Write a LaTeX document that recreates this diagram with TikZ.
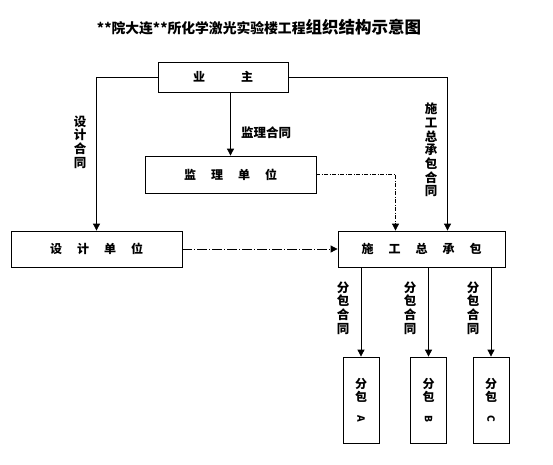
\documentclass[tikz,border=0pt]{standalone}
\usepackage{fontspec}
\setmainfont{Noto Sans CJK SC}
\usetikzlibrary{arrows.meta,positioning,calc}

\newcommand{\boxgap}{\hspace{15pt}}

\begin{document}
\begin{tikzpicture}[x=1pt, y=-1pt,
    every node/.style={font=\bfseries\fontsize{12}{14}\selectfont},
    unit/.style={draw, line width=0.8pt, minimum width=170pt, minimum height=36pt, inner sep=0pt},
    subunit/.style={draw, line width=0.8pt, minimum width=36pt, minimum height=86pt, inner sep=0pt,
      align=center, font=\bfseries\fontsize{12}{13.5}\selectfont},
    vlabel/.style={align=center, inner sep=0pt, font=\bfseries\fontsize{12.5}{13.7}\selectfont},
    link/.style={line width=0.8pt, -{Triangle[length=7pt,width=7pt]}},
    dlink/.style={link, dash pattern=on 10pt off 2pt on 1pt off 2pt}]
  \useasboundingbox (0,0) rectangle (553,464);

  % title
  \node (title) at (259,27) {\fontsize{13.8}{15}\selectfont **院大连**所化学激光实验楼工程{\fontsize{16.5}{18}\selectfont 组织结构示意图}};

  % units
  \node[unit, minimum width=130pt, minimum height=30pt] (owner) at (223,77) {业\hspace{36pt}主};
  \node[unit, minimum width=171pt, minimum height=37pt] (supv) at (230.5,174.5) {监\boxgap 理\boxgap 单\boxgap 位};
  \node[unit, minimum width=171pt] (design) at (96.5,249) {设\boxgap 计\boxgap 单\boxgap 位};
  \node[unit, minimum width=167pt] (gc) at (421.5,249) {施\boxgap 工\boxgap 总\boxgap 承\boxgap 包};
  \foreach \x/\id/\lt in {361/subA/A, 428.5/subB/B, 491/subC/C}{
    \node[subunit] (\id) at (\x,400) {分\\包\\\rotatebox{-90}{\fontsize{10}{10}\selectfont\lt}};
  }

  % contracts
  \draw[link] (owner.west) -| (design.north);
  \draw[link] (supv.north |- owner.south) -- (supv.north);
  \draw[link] (owner.east) -| ($(gc.north)+(26,0)$);
  \draw[dlink, dash pattern=on 4pt off 1.5pt on 1pt off 1.5pt] (supv.east) -| ($(gc.north)-(26,0)$);
  \draw[dlink] (design.east) -- (gc.west);
  \foreach \id in {subA, subB, subC}{
    \draw[link] (gc.south -| \id.north) -- (\id.north);
  }

  % labels
  \node[vlabel] (lbldesign) at (80,142) {设\\计\\合\\同};
  \node[vlabel] (lblsupv) at (266,133) {监理合同};
  \node[vlabel] (lblgc) at (431,150) {施\\工\\总\\承\\包\\合\\同};
  \foreach \x/\id in {343/lblA, 410/lblB, 473/lblC}{
    \node[vlabel] (\id) at (\x,308) {分\\包\\合\\同};
  }
\end{tikzpicture}
\end{document}
